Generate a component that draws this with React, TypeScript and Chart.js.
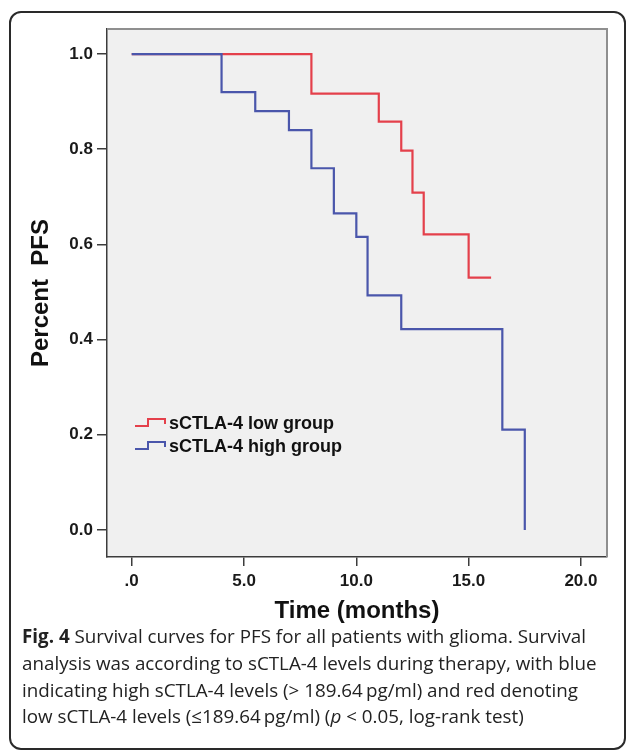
import React, { useEffect, useRef } from 'react';
import { Chart, registerables } from 'chart.js';

Chart.register(...registerables);

// ---- data ----
const highTimes = [0, 4, 5.5, 7, 8, 9, 10, 10.5, 12, 16.5, 17.5];
const highSurvival = [1, 0.92, 0.88, 0.84, 0.76, 0.665, 0.616, 0.493, 0.422, 0.211, 0];
const lowTimes = [0, 8, 11, 12, 12.5, 13, 15, 16];
const lowSurvival = [1, 0.917, 0.858, 0.797, 0.709, 0.621, 0.53, 0.53];
const seriesNames = ['sCTLA-4 low group', 'sCTLA-4 high group'];
const seriesColors = ['#e4404b', '#4a56ab'];
const xTickValues = [0, 5, 10, 15, 20];
const xTickLabels = ['.0', '5.0', '10.0', '15.0', '20.0'];
const yTickValues = [0, 0.2, 0.4, 0.6, 0.8, 1.0];
const yTickLabels = ['0.0', '0.2', '0.4', '0.6', '0.8', '1.0'];
const xRange = [-1.1, 21.16];
const yRange = [-0.0568, 1.0526];
const xTitle = 'Time (months)';
const yTitle = 'Percent  PFS';

const FONT = "'Liberation Sans', Arial, sans-serif";

const framePlugin = {
  id: 'plotFrame',
  beforeDraw(chart: any) {
    const { ctx, chartArea: a } = chart;
    ctx.save();
    ctx.fillStyle = '#f0f0f0';
    ctx.fillRect(a.left, a.top, a.right - a.left, a.bottom - a.top);
    ctx.restore();
  },
  beforeDatasetsDraw(chart: any) {
    const { ctx, chartArea: a } = chart;
    ctx.save();
    ctx.strokeStyle = '#8f8f8f';
    ctx.lineWidth = 2;
    ctx.beginPath();
    ctx.moveTo(a.left, a.top);
    ctx.lineTo(a.right, a.top);
    ctx.lineTo(a.right, a.bottom);
    ctx.stroke();
    ctx.restore();
  },
};

const legendPlugin = {
  id: 'stepLegend',
  afterDatasetsDraw(chart: any) {
    const { ctx, chartArea: a } = chart;
    ctx.save();
    const x0 = a.left + 28;
    seriesNames.forEach((name, i) => {
      const yb = a.top + 397 + i * 23;
      ctx.strokeStyle = seriesColors[i];
      ctx.lineWidth = 2;
      ctx.beginPath();
      ctx.moveTo(x0, yb);
      ctx.lineTo(x0 + 13, yb);
      ctx.lineTo(x0 + 13, yb - 7);
      ctx.lineTo(x0 + 30, yb - 7);
      ctx.lineTo(x0 + 30, yb - 2);
      ctx.stroke();
      ctx.fillStyle = '#111';
      ctx.font = `bold 18px ${FONT}`;
      ctx.textBaseline = 'middle';
      ctx.textAlign = 'left';
      ctx.fillText(name, x0 + 34, yb - 2);
    });
    ctx.restore();
  },
};

function ChartView() {
  const ref = useRef<HTMLCanvasElement | null>(null);
  useEffect(() => {
    if (!ref.current) return;
    const chart = new Chart(ref.current, {
      type: 'line',
      data: {
        datasets: [
          {
            label: seriesNames[1],
            data: highTimes.map((t, i) => ({ x: t, y: highSurvival[i] })),
            borderColor: seriesColors[1],
            stepped: 'before',
            order: 0,
          },
          {
            label: seriesNames[0],
            data: lowTimes.map((t, i) => ({ x: t, y: lowSurvival[i] })),
            borderColor: seriesColors[0],
            stepped: 'before',
            order: 1,
          },
        ],
      },
      options: {
        responsive: false,
        maintainAspectRatio: false,
        animation: false,
        layout: { padding: { left: 0, top: 29, right: 20, bottom: 0 } },
        elements: { point: { radius: 0 }, line: { borderWidth: 2.2, fill: false } },
        plugins: { legend: { display: false }, tooltip: { enabled: false } },
        scales: {
          x: {
            type: 'linear',
            min: xRange[0],
            max: xRange[1],
            afterFit: (s: any) => { s.height = 73; },
            afterBuildTicks: (s: any) => { s.ticks = xTickValues.map((v) => ({ value: v })); },
            ticks: {
              autoSkip: false,
              maxRotation: 0,
              padding: 5,
              color: '#1a1a1a',
              font: { family: FONT, size: 17, weight: 'bold' },
              callback: (v: any) => {
                const i = xTickValues.indexOf(v);
                return i >= 0 ? xTickLabels[i] : '';
              },
            },
            grid: { display: true, drawOnChartArea: false, drawTicks: true, tickLength: 9, color: '#3c3c3c', lineWidth: 1.5 },
            border: { display: true, color: '#3c3c3c', width: 1.5 },
            title: {
              display: true,
              text: xTitle,
              color: '#111',
              font: { family: FONT, size: 24, weight: 'bold' },
              padding: { top: 0, bottom: 4 },
            },
          },
          y: {
            type: 'linear',
            min: yRange[0],
            max: yRange[1],
            afterFit: (s: any) => { s.width = 107; },
            afterBuildTicks: (s: any) => { s.ticks = yTickValues.map((v) => ({ value: v })); },
            ticks: {
              autoSkip: false,
              padding: 4,
              color: '#1a1a1a',
              font: { family: FONT, size: 17, weight: 'bold' },
              callback: (v: any) => {
                const i = yTickValues.indexOf(v);
                return i >= 0 ? yTickLabels[i] : '';
              },
            },
            grid: { display: true, drawOnChartArea: false, drawTicks: true, tickLength: 10, color: '#3c3c3c', lineWidth: 1.5 },
            border: { display: true, color: '#3c3c3c', width: 1.5 },
            title: {
              display: true,
              text: yTitle,
              color: '#111',
              font: { family: FONT, size: 24, weight: 'bold' },
              padding: { top: 27, bottom: 0 },
            },
          },
        },
      },
      plugins: [framePlugin, legendPlugin],
    } as any);
    return () => chart.destroy();
  }, []);
  return <canvas ref={ref} width={627} height={630} style={{ position: 'absolute', left: 0, top: 0, width: 627, height: 630 }} />;
}

export default function App() {
  return (
    <div style={{ position: 'fixed', left: 0, top: 0, width: 627, height: 752, overflow: 'hidden', background: '#fff' }}>
      <div
        style={{
          position: 'absolute',
          left: 9,
          top: 11,
          width: 617,
          height: 739,
          boxSizing: 'border-box',
          border: '2px solid #2a2a2a',
          borderRadius: 12,
        }}
      />
      <ChartView />
      <div
        style={{
          position: 'absolute',
          left: 22,
          top: 623,
          fontFamily: "'Open Sans', sans-serif",
          fontSize: 18.8,
          lineHeight: '26.8px',
          color: '#222',
          whiteSpace: 'nowrap',
        }}
      >
        <div><b>Fig. 4</b> Survival curves for PFS for all patients with glioma. Survival</div>
        <div>analysis was according to sCTLA-4 levels during therapy, with blue</div>
        <div>indicating high sCTLA-4 levels (&gt; 189.64&#8201;pg/ml) and red denoting</div>
        <div>low sCTLA-4 levels (≤189.64&#8201;pg/ml) (<i>p</i> &lt; 0.05, log-rank test)</div>
      </div>
    </div>
  );
}
